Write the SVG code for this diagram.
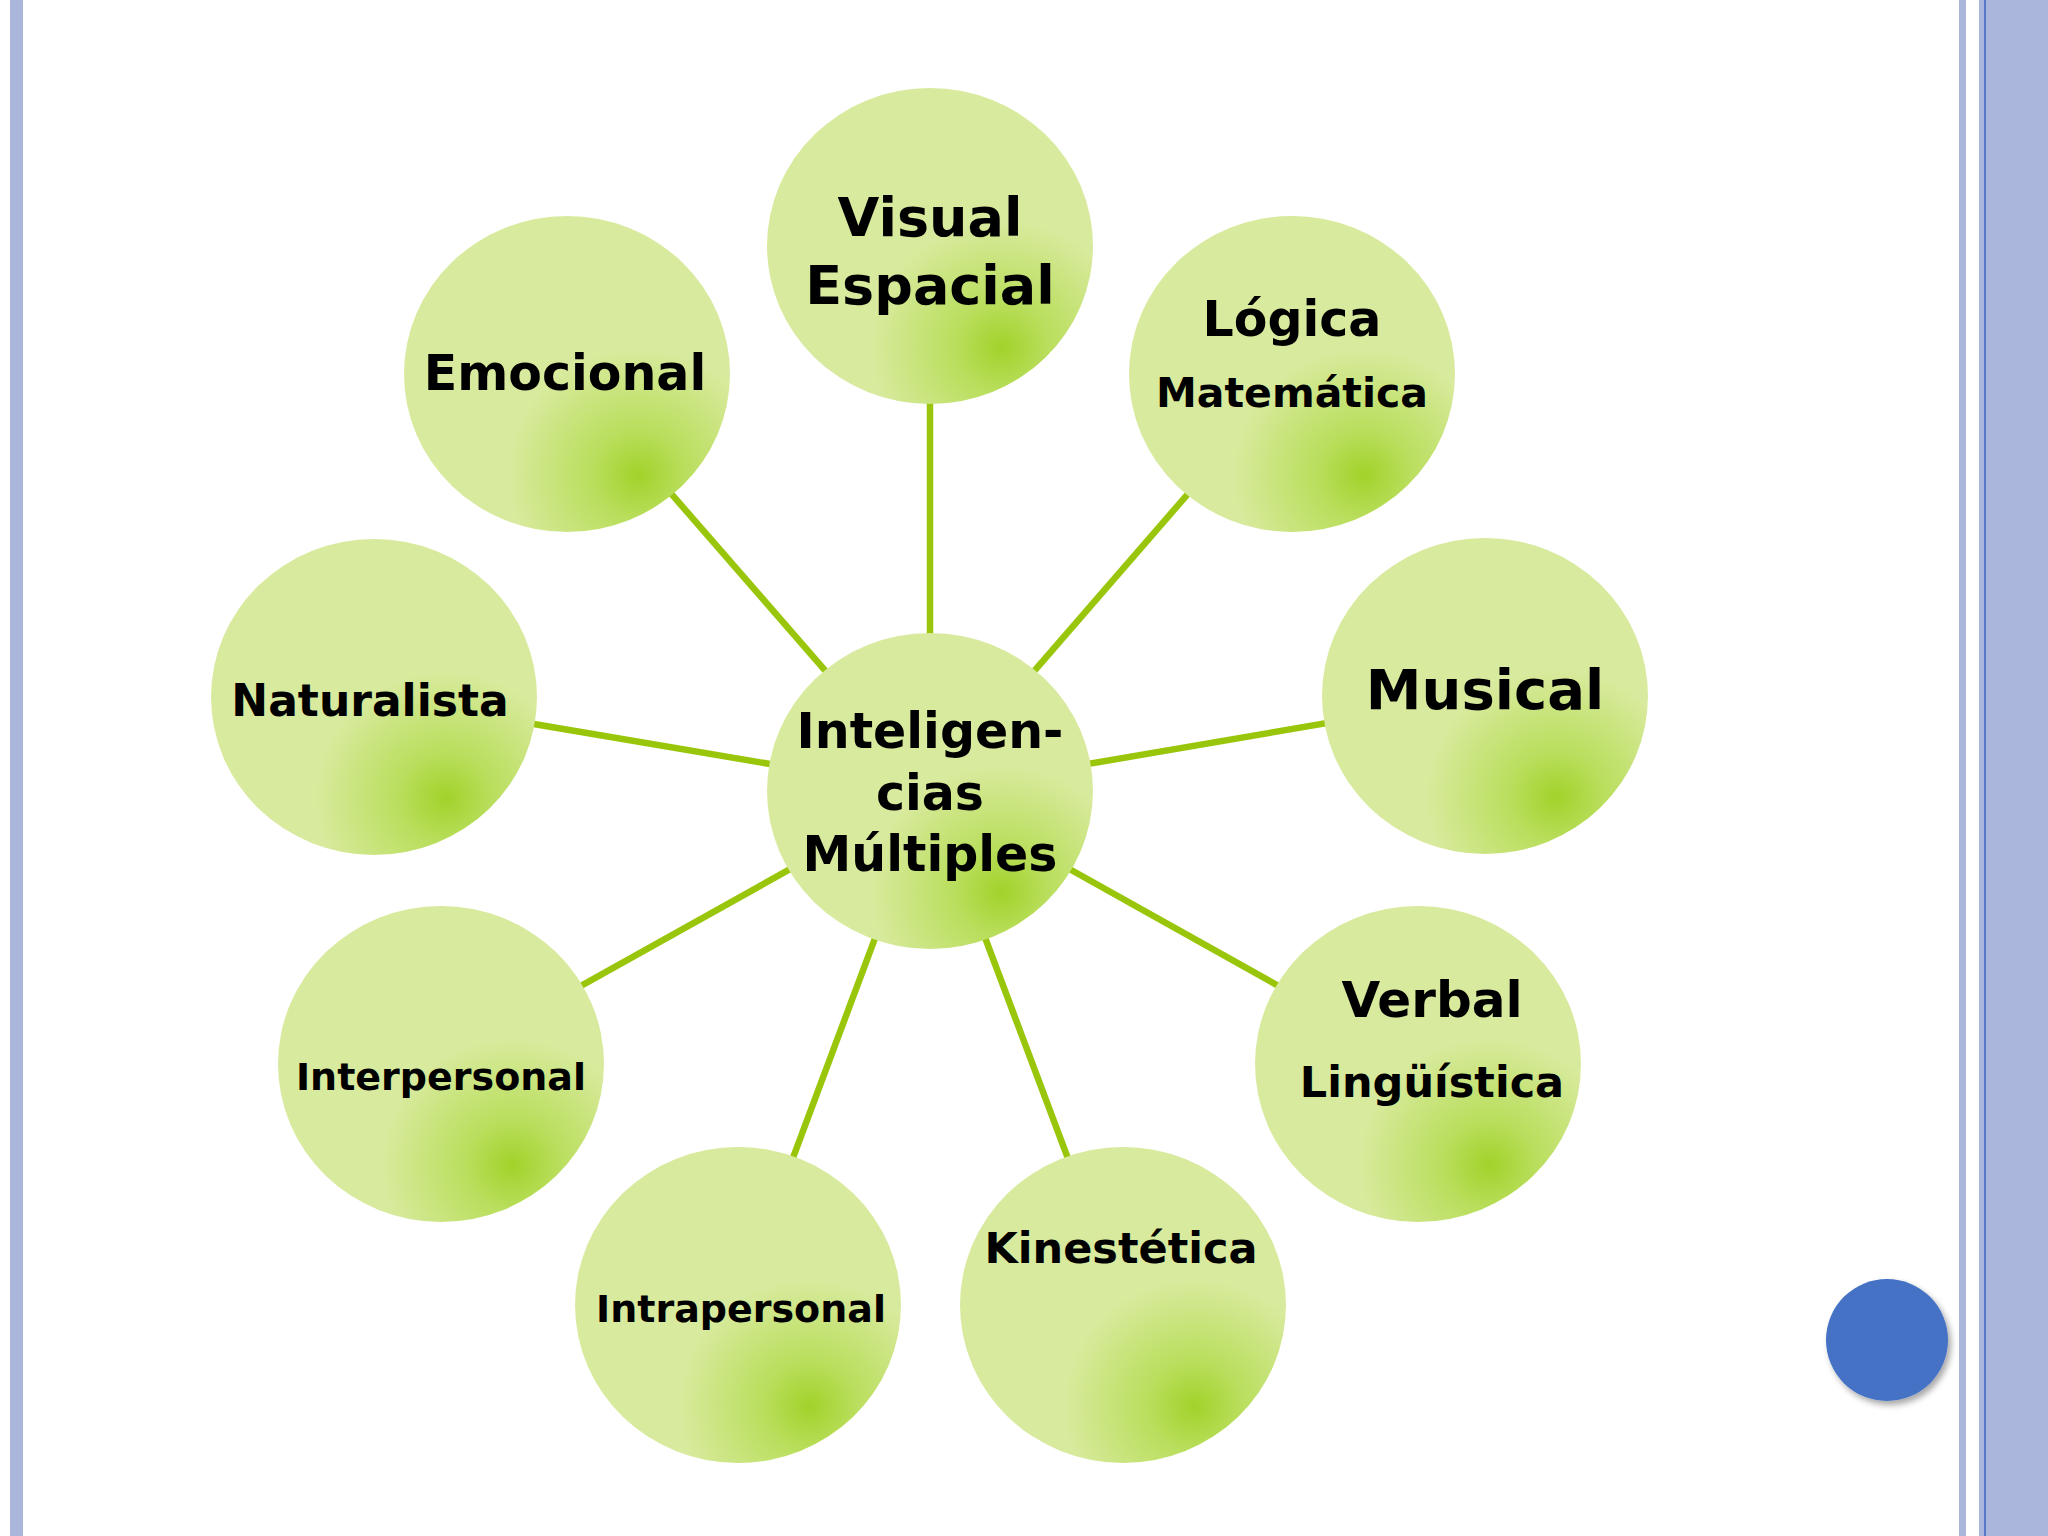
<svg xmlns="http://www.w3.org/2000/svg" width="2048" height="1536" viewBox="0 0 2048 1536">
<defs>
<radialGradient id="g" cx="0.72" cy="0.82" r="0.4">
<stop offset="0" stop-color="#a2d22a"/>
<stop offset="0.35" stop-color="#b9de5c"/>
<stop offset="1" stop-color="#d8ea9d"/>
</radialGradient>
<filter id="sh" x="-30%" y="-30%" width="160%" height="160%"><feDropShadow dx="3" dy="4" stdDeviation="3" flood-opacity="0.35"/></filter>
</defs>
<style>
.n{fill:url(#g)}
text{font-family:"DejaVu Sans",Verdana,sans-serif;font-weight:bold;fill:#000;text-anchor:middle}
.c{stroke:#99c60a;stroke-width:6.5}
</style>
<rect width="2048" height="1536" fill="#fff"/>
<rect x="10" y="0" width="13" height="1536" fill="#aab6dc"/>
<rect x="1959" y="0" width="7" height="1536" fill="#aab6dc"/>
<rect x="1979" y="0" width="69" height="1536" fill="#aab6dc"/>
<line x1="1985" y1="0" x2="1985" y2="1536" stroke="#5a78c8" stroke-width="2"/>
<g id="connectors">
<line class="c" x1="930" y1="791" x2="930" y2="246"/>
<line class="c" x1="930" y1="791" x2="1292" y2="374"/>
<line class="c" x1="930" y1="791" x2="567" y2="374"/>
<line class="c" x1="930" y1="791" x2="1485" y2="696"/>
<line class="c" x1="930" y1="791" x2="374" y2="697"/>
<line class="c" x1="930" y1="791" x2="1418" y2="1064"/>
<line class="c" x1="930" y1="791" x2="441" y2="1064"/>
<line class="c" x1="930" y1="791" x2="1123" y2="1305"/>
<line class="c" x1="930" y1="791" x2="738" y2="1305"/>
</g>
<g id="center"><ellipse class="n" cx="930" cy="791" rx="163" ry="158"/>
<text x="930" y="748" font-size="49">Inteligen-</text><text x="930" y="810" font-size="49">cias</text><text x="930" y="871" font-size="49">Múltiples</text></g>
<g id="visual"><ellipse class="n" cx="930" cy="246" rx="163" ry="158"/>
<text x="930" y="236" font-size="54">Visual</text><text x="930" y="304" font-size="54">Espacial</text></g>
<g id="logica"><ellipse class="n" cx="1292" cy="374" rx="163" ry="158"/>
<text x="1292" y="336" font-size="49">Lógica</text><text x="1292" y="407" font-size="41">Matemática</text></g>
<g id="emocional"><ellipse class="n" cx="567" cy="374" rx="163" ry="158"/>
<text x="565" y="390" font-size="49">Emocional</text></g>
<g id="musical"><ellipse class="n" cx="1485" cy="696" rx="163" ry="158"/>
<text x="1485" y="709" font-size="56">Musical</text></g>
<g id="naturalista"><ellipse class="n" cx="374" cy="697" rx="163" ry="158"/>
<text x="370" y="716" font-size="44">Naturalista</text></g>
<g id="verbal"><ellipse class="n" cx="1418" cy="1064" rx="163" ry="158"/>
<text x="1432" y="1017" font-size="50">Verbal</text><text x="1432" y="1097" font-size="43">Lingüística</text></g>
<g id="interpersonal"><ellipse class="n" cx="441" cy="1064" rx="163" ry="158"/>
<text x="441" y="1090" font-size="38">Interpersonal</text></g>
<g id="kinestetica"><ellipse class="n" cx="1123" cy="1305" rx="163" ry="158"/>
<text x="1121" y="1263" font-size="43">Kinestética</text></g>
<g id="intrapersonal"><ellipse class="n" cx="738" cy="1305" rx="163" ry="158"/>
<text x="741" y="1322" font-size="38">Intrapersonal</text></g>
<circle cx="1887" cy="1340" r="61" fill="#4472c4" filter="url(#sh)"/>
</svg>
